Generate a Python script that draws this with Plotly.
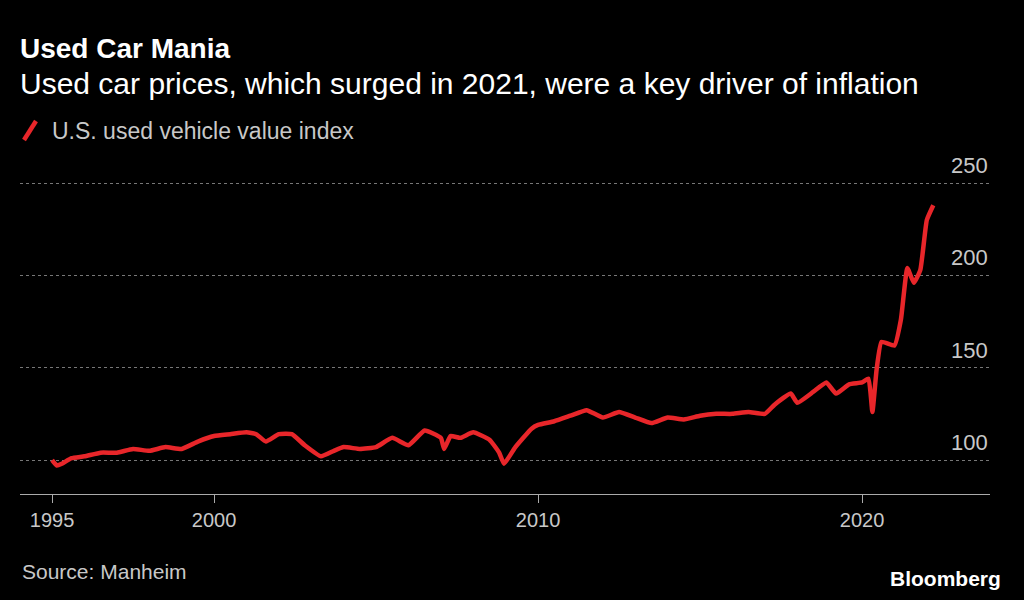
import plotly.graph_objects as go

# approximate readings of the Manheim index
years = [1995.0, 1995.15, 1995.3, 1995.6, 1996.0, 1996.5, 1997.0, 1997.5, 1998.0, 1998.5,
         1999.0, 1999.5, 2000.0, 2000.5, 2001.0, 2001.3, 2001.6, 2002.0, 2002.4, 2002.8,
         2003.3, 2003.7, 2004.0, 2004.5, 2005.0, 2005.5, 2006.0, 2006.5, 2007.0, 2007.1,
         2007.3, 2007.6, 2008.0, 2008.5, 2008.8, 2008.95, 2009.3, 2009.8, 2010.0, 2010.5,
         2011.0, 2011.5, 2012.0, 2012.5, 2013.0, 2013.5, 2014.0, 2014.5, 2015.0, 2015.5,
         2016.0, 2016.5, 2017.0, 2017.3, 2017.8, 2018.0, 2018.5, 2018.9, 2019.2, 2019.6,
         2020.0, 2020.2, 2020.32, 2020.45, 2020.6, 2021.0, 2021.2, 2021.4, 2021.6, 2021.8,
         2022.0, 2022.2]
index = [100, 97, 98, 101, 102, 104, 104, 106, 105, 107,
         106, 110, 113, 114, 115, 114, 110, 114, 114, 108,
         102, 105, 107, 106, 107, 112, 108, 116, 112, 106,
         113, 112, 115, 111, 104, 98, 107, 117, 119, 121,
         124, 127, 123, 126, 123, 120, 123, 122, 124, 125,
         125, 126, 125, 130, 136, 131, 137, 142, 136, 141,
         142, 144, 126, 149, 164, 162, 176, 204, 196, 203,
         230, 238]

ytick_vals = [100, 150, 200, 250]
xtick_vals = [1995, 2000, 2010, 2020]

red = '#e8262a'
grey = '#c8c8c8'

# page shows the figure 8px in from the top-left corner
W, H = 1008, 584
PL, PR, PT, PB = 20, 990, 160, 494  # plot area in window pixels

fig = go.Figure()
fig.add_trace(go.Scatter(x=years, y=index, mode='lines',
                         line=dict(color=red, width=4.5, shape='spline', smoothing=0.4)))

fig.update_layout(
    width=W, height=H, paper_bgcolor='black', plot_bgcolor='black',
    margin=dict(l=PL - 8, r=W - (PR - 8), t=PT - 8, b=H - (PB - 8)), showlegend=False,
    font=dict(family='Liberation Sans, Arial', color=grey),
)
fig.update_xaxes(range=[1994.01, 2023.95], tickvals=xtick_vals, showgrid=False, zeroline=False,
                 showline=True, linecolor='#aaaaaa', linewidth=1,
                 ticks='outside', ticklen=8, tickcolor='#aaaaaa',
                 tickfont=dict(size=20, color=grey))
fig.update_yaxes(range=[81.6, 262.5], tickvals=ytick_vals, showticklabels=False,
                 showgrid=True, gridcolor='#777777', griddash='dot', gridwidth=1, zeroline=False)

for v in ytick_vals:
    fig.add_annotation(x=1, xref='paper', y=v, yref='y', text=str(v), showarrow=False,
                       xanchor='right', yanchor='bottom', yshift=3, font=dict(size=22, color=grey))

# paper coords from window pixels
def pa(px_x, px_y):
    return (px_x - PL) / (PR - PL), (PB - px_y) / (PB - PT)

for text, x, y, size, color, bold, anchor in [
    ('Used Car Mania', 18, 48, 28, 'white', True, 'left'),
    ('Used car prices, which surged in 2021, were a key driver of inflation', 18, 83, 30, 'white', False, 'left'),
    ('U.S. used vehicle value index', 50, 131, 23, grey, False, 'left'),
    ('Source: Manheim', 20, 571, 21, grey, False, 'left'),
    ('Bloomberg', 1003, 578, 21, 'white', True, 'right'),
]:
    px, py = pa(x, y)
    t = '<b>%s</b>' % text if bold else text
    fig.add_annotation(x=px, y=py, xref='paper', yref='paper', text=t, showarrow=False,
                       xanchor=anchor, yanchor='middle', font=dict(size=size, color=color))

x0, y0 = pa(24, 140)
x1, y1 = pa(36, 121)
fig.add_shape(type='line', xref='paper', yref='paper', x0=x0, y0=y0, x1=x1, y1=y1,
              line=dict(color=red, width=4.5))

fig.write_html("out.html", post_script="document.body.style.background='black';")
